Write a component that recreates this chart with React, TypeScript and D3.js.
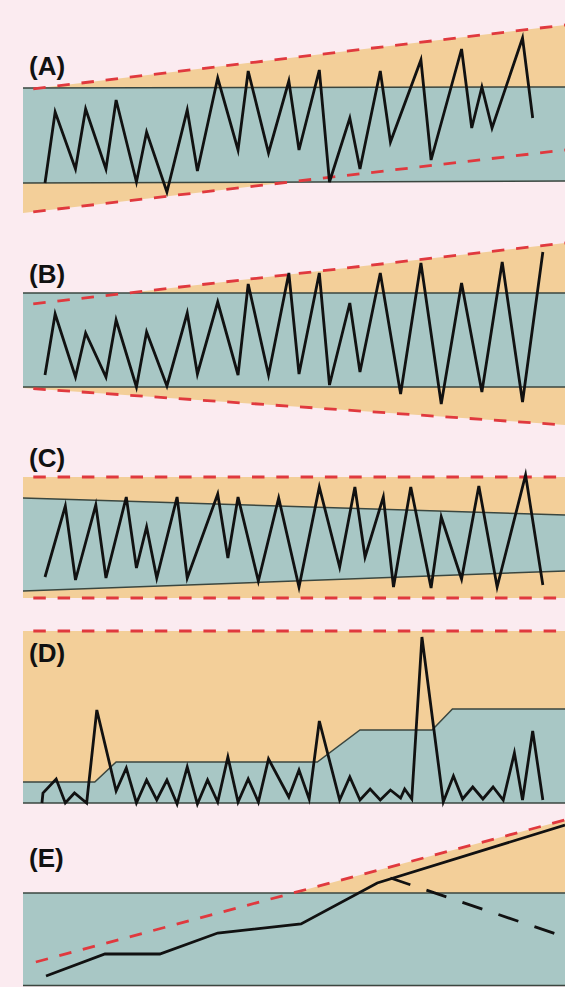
import React from 'react';
import * as d3 from 'd3';

const WIDTH = 565;
const HEIGHT = 987;

const panelLabels = ['(A)', '(B)', '(C)', '(D)', '(E)'];

// shared time axis (steps); the panels span the whole extent
const xExtent: [number, number] = [-2.165, 51.18];

// ---------- (A) ----------
const aTimes = [0, 1, 3, 4, 6, 7, 9, 10, 12, 14, 15, 17, 19, 20, 22, 24, 25, 27, 28, 30, 31, 33, 34, 37, 38, 41, 42, 43, 44, 47, 48];
const aValues = [0, 7.1, 1.4, 7.4, 1.4, 8.3, 0.1, 5.1, -0.9, 7.3, 1.2, 10.5, 3.3, 11.2, 3.0, 10.2, 3.3, 11.3, 0.1, 6.5, 1.4, 11.2, 4.1, 12.3, 2.3, 13.4, 5.5, 9.6, 5.5, 14.5, 6.5];
const aBandTop = [9.5, 9.6];
const aBandBottom = [0, 0.2];
const aLimitUpper = [9.3, 15.8];
const aLimitLower = [-3.0, 3.3];

// ---------- (B) ----------
const bTimes = [0, 1, 3, 4, 6, 7, 9, 10, 12, 14, 15, 17, 19, 20, 22, 24, 25, 27, 28, 30, 31, 33, 35, 37, 39, 41, 43, 45, 47, 49];
const bValues = [1.3, 7.4, 1.1, 5.5, 1.1, 6.8, 0.1, 5.6, 0.2, 7.5, 1.4, 8.6, 1.3, 10.4, 1.3, 11.5, 1.4, 11.5, 0.3, 8.5, 1.6, 11.5, -0.6, 12.5, -1.6, 10.5, -0.4, 12.6, -1.4, 13.6];
const bBandTop = [9.5, 9.5];
const bBandBottom = [0.1, 0.1];
const bLimitUpper = [8.3, 14.5];
const bLimitLower = [0, -3.7];

// ---------- (C) ----------
const cTimes = [0, 2, 3, 5, 6, 8, 9, 10, 11, 13, 14, 17, 18, 19, 21, 23, 25, 27, 29, 30.5, 31.5, 33.3, 34.3, 36, 38, 39, 41, 42.7, 44.5, 47.3, 49];
const cValues = [2.1, 9.2, 1.8, 9.3, 2.0, 10.1, 3.0, 7.1, 2.0, 10.1, 2.0, 10.4, 4.0, 10.1, 1.7, 10.0, 1.1, 11.1, 3.1, 11.1, 4.1, 10.1, 1.1, 11.1, 1.0, 8.1, 1.9, 11.2, 1.1, 12.3, 1.3];
const cBandTop = [10.0, 8.3];
const cBandBottom = [0.7, 2.7];
const cLimitUpper = [12.1, 12.1];
const cLimitLower = [0, 0];

// ---------- (D) ----------
const dTimes = [-0.3, -0.2, 1.1, 2, 2.9, 4.1, 5.1, 7, 8, 9, 10, 11, 12, 13, 14, 15, 16, 17, 18, 19, 20, 21, 22, 24, 25, 26, 27, 29, 30, 31, 32, 33, 34, 35, 35.4, 36.1, 37.1, 39.2, 40.2, 41.1, 42.1, 43.1, 44.1, 45.1, 46.2, 47, 48, 49];
const dValues = [0, 1.0, 2.4, 0, 1.0, 0, 9.3, 1.2, 3.5, 0, 2.3, 0.3, 2.3, -0.1, 3.6, -0.1, 2.3, 0.1, 4.6, 0.1, 2.4, 0.1, 4.4, 0.6, 3.3, 0.4, 8.2, 0.3, 2.6, 0.3, 1.4, 0.3, 1.3, 0.5, 1.4, 0.4, 16.6, 0.1, 2.7, 0.4, 1.6, 0.4, 1.6, 0.3, 5.0, 0.3, 7.2, 0.3];
const dStepTimes = [-2.165, 4.9, 7.0, 26.8, 31.0, 38.1, 40.1, 51.18];
const dStepValues = [2.1, 2.1, 4.1, 4.1, 7.3, 7.3, 9.4, 9.4];
const dLimitUpper = [17.2, 17.2];

// ---------- (E) ----------
const eTimes = [0.1, 5.9, 11.3, 17, 25.2, 32.7, 51.18];
const eValues = [1.1, 3.3, 3.3, 5.4, 6.3, 10.4, 16.2];
const eForecastTimes = [34, 51.18];
const eForecastValues = [10.9, 5.0];
const eLimitTimes = [-0.9, 51.18];
const eLimitValues = [2.5, 16.7];
const eBandTop = [9.4, 9.4];
const eBandBottom = [0.15, 0.15];

// ---------- layout / style ----------
const PINK = '#fbebf0';
const ORANGE = '#f3cf99';
const TEAL = '#a8c7c5';
const RED = '#e0393e';
const BANDLINE = '#3a463f';

const panelBase = [183, 388, 598, 803, 987];
const labelBaseline = [75, 283, 467, 662, 867];

type P = [number, number];
const zip = (a: number[], b: number[]): P[] => a.map((v, i) => [v, b[i]] as P);

export default function App() {
  const x = d3.scaleLinear().domain(xExtent).range([23, WIDTH]);
  const yFor = (i: number) => d3.scaleLinear().domain([0, 10]).range([panelBase[i], panelBase[i] - 100]);

  const lineFor = (y: d3.ScaleLinear<number, number>) =>
    d3.line<P>().x((d) => x(d[0])).y((d) => y(d[1]));
  const areaFor = (y: d3.ScaleLinear<number, number>) =>
    d3.area<{ t: number; lo: number; hi: number }>()
      .x((d) => x(d.t))
      .y0((d) => y(d.lo))
      .y1((d) => y(d.hi));

  const band = (lo: number[], hi: number[], ts: number[] = xExtent) =>
    ts.map((t, i) => ({ t, lo: lo[i], hi: hi[i] }));

  const redDash = { stroke: RED, strokeWidth: 2.8, strokeDasharray: '12.5 11.8', strokeDashoffset: 14, fill: 'none' } as const;
  const zig = { stroke: '#111', strokeWidth: 2.8, fill: 'none', strokeLinejoin: 'miter' as const, strokeMiterlimit: 5 };
  const bandLine = { stroke: BANDLINE, strokeWidth: 1.5, fill: 'none' };

  const yA = yFor(0), yB = yFor(1), yC = yFor(2), yD = yFor(3), yE = yFor(4);

  const label = (i: number) => (
    <text
      key={'lab' + i}
      x={29}
      y={labelBaseline[i]}
      fontFamily="'Liberation Sans', Arial, sans-serif"
      fontWeight="bold"
      fontSize={26}
      fill="#111"
    >
      {panelLabels[i]}
    </text>
  );

  return (
    <svg
      width={WIDTH}
      height={HEIGHT}
      style={{ position: 'absolute', left: 0, top: 0, display: 'block' }}
    >
      <rect x={0} y={0} width={WIDTH} height={HEIGHT} fill={PINK} />

      {/* (A) */}
      <g>
        <path d={areaFor(yA)(band(aLimitLower, aLimitUpper)) || ''} fill={ORANGE} />
        <path d={areaFor(yA)(band(aBandBottom, aBandTop)) || ''} fill={TEAL} />
        <path d={lineFor(yA)(zip(xExtent, aBandTop)) || ''} {...bandLine} />
        <path d={lineFor(yA)(zip(xExtent, aBandBottom)) || ''} {...bandLine} />
        <path d={lineFor(yA)(zip(xExtent, aLimitUpper)) || ''} {...redDash} />
        <path d={lineFor(yA)(zip(xExtent, aLimitLower)) || ''} {...redDash} />
        <path d={lineFor(yA)(zip(aTimes, aValues)) || ''} {...zig} />
        {label(0)}
      </g>

      {/* (B) */}
      <g>
        <path d={areaFor(yB)(band(bLimitLower, bLimitUpper)) || ''} fill={ORANGE} />
        <path d={areaFor(yB)(band(bBandBottom, bBandTop)) || ''} fill={TEAL} />
        <path d={lineFor(yB)(zip(xExtent, bBandTop)) || ''} {...bandLine} />
        <path d={lineFor(yB)(zip(xExtent, bBandBottom)) || ''} {...bandLine} />
        <path d={lineFor(yB)(zip(xExtent, bLimitUpper)) || ''} {...redDash} />
        <path d={lineFor(yB)(zip(xExtent, bLimitLower)) || ''} {...redDash} />
        <path d={lineFor(yB)(zip(bTimes, bValues)) || ''} {...zig} />
        {label(1)}
      </g>

      {/* (C) */}
      <g>
        <path d={areaFor(yC)(band(cLimitLower, cLimitUpper)) || ''} fill={ORANGE} />
        <path d={areaFor(yC)(band(cBandBottom, cBandTop)) || ''} fill={TEAL} />
        <path d={lineFor(yC)(zip(xExtent, cBandTop)) || ''} {...bandLine} />
        <path d={lineFor(yC)(zip(xExtent, cBandBottom)) || ''} {...bandLine} />
        <path d={lineFor(yC)(zip(xExtent, cLimitUpper)) || ''} {...redDash} />
        <path d={lineFor(yC)(zip(xExtent, cLimitLower)) || ''} {...redDash} />
        <path d={lineFor(yC)(zip(cTimes, cValues)) || ''} {...zig} />
        {label(2)}
      </g>

      {/* (D) */}
      <g>
        <path d={areaFor(yD)(band([0, 0], dLimitUpper)) || ''} fill={ORANGE} />
        <path d={areaFor(yD)(band(dStepValues.map(() => 0), dStepValues, dStepTimes)) || ''} fill={TEAL} />
        <path d={lineFor(yD)(zip(dStepTimes, dStepValues)) || ''} {...bandLine} />
        <path d={lineFor(yD)(zip(xExtent, [0, 0])) || ''} {...bandLine} />
        <path d={lineFor(yD)(zip(xExtent, dLimitUpper)) || ''} {...redDash} />
        <path d={lineFor(yD)(zip(dTimes, dValues)) || ''} {...zig} />
        {label(3)}
      </g>

      {/* (E) */}
      <g>
        <path d={areaFor(yE)(band([eBandTop[0], eBandTop[1]], eLimitValues, eLimitTimes)) || ''} fill={ORANGE} />
        <path d={areaFor(yE)(band(eBandBottom, eBandTop)) || ''} fill={TEAL} />
        <path d={lineFor(yE)(zip(xExtent, eBandTop)) || ''} {...bandLine} />
        <path d={lineFor(yE)(zip(xExtent, eBandBottom)) || ''} {...bandLine} />
        <path d={lineFor(yE)(zip(eLimitTimes, eLimitValues)) || ''} {...redDash} strokeDashoffset={0} />
        <path d={lineFor(yE)(zip(eTimes, eValues)) || ''} {...zig} />
        <path
          d={lineFor(yE)(zip(eForecastTimes, eForecastValues)) || ''}
          stroke="#111"
          strokeWidth={2.8}
          fill="none"
          strokeDasharray="21 17"
        />
        {label(4)}
      </g>
    </svg>
  );
}
